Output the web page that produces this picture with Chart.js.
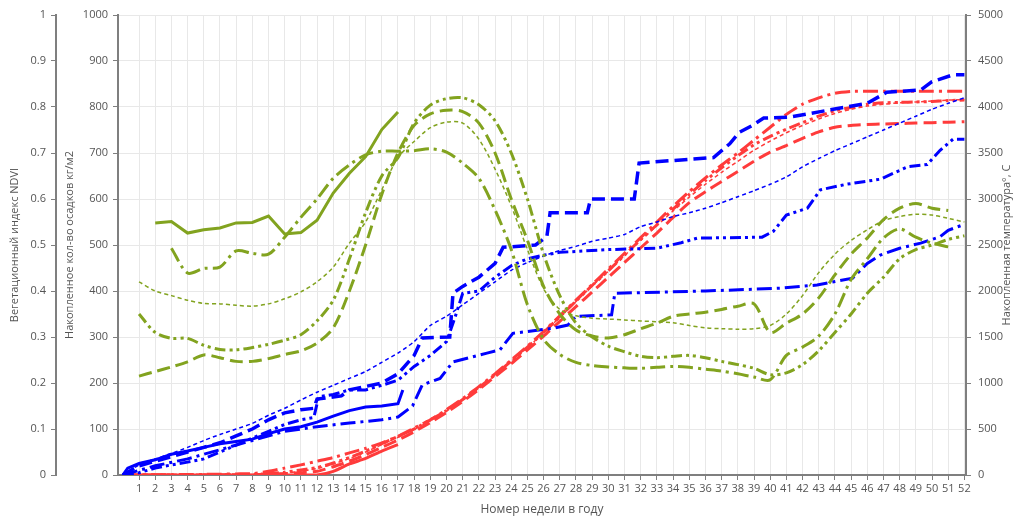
<!DOCTYPE html>
<html>
<head>
<meta charset="utf-8">
<script src="https://cdn.jsdelivr.net/npm/chart.js@4"></script>
<style>
  html, body { margin: 0; padding: 0; background: #fff; }
  #wrap { width: 1014px; height: 517px; }
</style>
</head>
<body>
<div id="wrap"><canvas id="chart" width="1014" height="517"></canvas></div>
<script>
// weeks 0..52 for weekly series
const weeks = Array.from({length: 53}, (_, i) => i);
const tickWeeks = weeks.slice(1);

// NDVI (left axis), index = week
const ndviSolid = [null,null,0.548,0.551,0.526,0.533,0.537,0.548,0.549,0.563,0.524,0.527,0.554,0.613,0.656,0.692,0.751,0.789];
const ndviDashDot = [null,null,null,0.493,0.439,0.449,0.452,0.487,0.482,0.48,0.517,0.56,0.6,0.645,0.674,0.696,0.704,0.704,0.705,0.709,0.702,0.678,0.645,0.576,0.49,0.37,0.295,0.262,0.245,0.238,0.235,0.233,0.232,0.234,0.236,0.234,0.23,0.226,0.22,0.213,0.207,0.26,0.278,0.302,0.35,0.425,0.47,0.515,0.535,0.517,0.504,0.496];
const ndviLongDash = [null,0.215,0.225,0.235,0.246,0.261,0.255,0.247,0.247,0.253,0.262,0.27,0.287,0.32,0.4,0.5,0.61,0.7,0.76,0.785,0.793,0.79,0.765,0.7,0.6,0.51,0.41,0.35,0.315,0.302,0.298,0.305,0.318,0.33,0.345,0.35,0.354,0.36,0.367,0.372,0.31,0.33,0.35,0.385,0.435,0.48,0.515,0.555,0.58,0.59,0.58,0.575];
const ndviDashDotDot = [null,0.35,0.31,0.297,0.297,0.282,0.273,0.272,0.277,0.284,0.293,0.305,0.335,0.38,0.47,0.57,0.65,0.69,0.765,0.804,0.818,0.82,0.805,0.77,0.7,0.6,0.48,0.39,0.33,0.3,0.28,0.268,0.258,0.255,0.258,0.26,0.255,0.247,0.24,0.232,0.218,0.222,0.24,0.27,0.31,0.35,0.395,0.43,0.47,0.49,0.5,0.512,0.52];
const ndviShortDash = [null,0.42,0.4,0.39,0.38,0.373,0.372,0.369,0.367,0.372,0.383,0.398,0.42,0.452,0.504,0.55,0.62,0.69,0.725,0.755,0.767,0.765,0.73,0.665,0.585,0.49,0.405,0.36,0.346,0.341,0.339,0.337,0.335,0.333,0.331,0.325,0.32,0.318,0.317,0.318,0.325,0.35,0.39,0.44,0.48,0.51,0.533,0.553,0.562,0.567,0.565,0.558,0.55];

// precipitation, kg/m2 (middle axis): week positions + values
const rainSolidWeeks = [0,0.3,1,2,3,4,5,6,7,8,9,10,11,12,13,14,15,16,17,17.3];
const rainSolid = [0,15,25,33,45,52,60,68,73,78,90,100,105,115,128,140,148,150,155,185];
const rainLongDashWeeks = [0,1,2,3,4,5,6,7,8,9,10,11,11.8,12,13.5,14,16,17,18,18.5,20.2,20.4,21,22,22.5,23,23.5,25.5,26.2,26.4,28.7,28.9,31.6,31.9,34.5,36.5,37.5,38.1,38.9,39.6,41.2,43.1,44.7,46,47.2,49.3,50,51.3,52];
const rainLongDash = [0,20,30,40,50,60,70,85,100,120,135,142,145,165,172,185,200,220,260,298,300,395,410,430,445,460,495,500,518,570,570,600,600,678,685,690,720,745,760,776,778,790,800,808,832,837,855,870,870];
const rainDashDotWeeks = [0,2,4,6,8,10,12,14,16,17,17.9,18.5,19.6,20.4,22.5,23.3,24.1,26.6,27.5,28,30.2,30.4,36,40.6,42.9,45.1,46,46.8,48,49.3,50.5,51,52];
const rainDashDot = [0,20,35,55,75,95,105,113,120,126,150,196,210,246,265,272,308,319,326,345,348,395,400,406,413,428,460,478,493,504,518,532,545];
const rainDashDotDotWeeks = [0,1,2,3,4,5,6,7,8,9,10,11,11.8,12.1,13,14,15,16,17,18,19,20,20.5,21,22,23,24,25,26,27,28,30,33,34.5,35.5,39.5,40.2,41,42.3,43.1,44.7,46.8,48.5,49.7,50.5,51.3,52];
const rainDashDotDot = [0,5,15,22,28,35,50,65,80,95,110,120,125,170,175,185,185,195,206,236,260,290,340,395,400,430,455,470,478,484,486,490,493,505,515,517,530,565,580,620,632,643,670,675,706,730,730];
const rainShortDash = [0,22,35,47,60,75,88,100,112,130,145,163,180,195,210,225,245,265,290,325,345,370,395,420,445,462,476,488,497,508,515,523,540,550,562,570,580,592,605,618,632,648,670,688,705,720,735,750,765,780,795,808,820];

// accumulated temperature (right axis), index = week
const tempSolid = [0,0,0,0,0,0,0,0,0,0,0,0,0,40,120,180,260,330];
const tempDashDot = [0,2,3,4,5,7,9,12,15,40,75,110,150,190,240,290,350,420,510,600,710,830,960,1100,1250,1400,1560,1730,1900,2070,2240,2410,2580,2750,2920,3080,3230,3370,3500,3640,3780,3920,4030,4100,4150,4170,4170,4170,4170,4170,4170,4170,4170];
const tempDashDotDot = [0,0,0,0,0,1,2,3,5,15,30,55,80,130,190,260,340,420,500,600,700,820,950,1090,1240,1390,1550,1720,1890,2060,2220,2390,2560,2720,2890,3050,3200,3340,3470,3590,3680,3760,3830,3900,3960,3995,4030,4045,4050,4055,4060,4070,4075];
const tempLongDash = [0,0,0,0,0,1,2,3,4,5,15,25,40,90,150,220,300,380,470,570,680,800,930,1070,1210,1360,1510,1670,1830,1990,2150,2310,2470,2630,2800,2960,3080,3190,3300,3410,3510,3580,3660,3730,3780,3800,3810,3815,3820,3825,3830,3835,3840];
const tempShortDash = [0,0,0,0,0,1,2,3,5,10,20,40,70,120,180,250,330,410,495,590,695,815,945,1085,1235,1385,1545,1715,1885,2055,2215,2385,2550,2710,2870,3020,3160,3290,3410,3530,3630,3720,3800,3870,3930,3975,4010,4030,4045,4055,4065,4075,4080];

const GREEN = '#82a31f';
const BLUE = '#0000ff';
const RED = '#ff3b3b';

const DASH = {
  solid: [],
  long: [13, 6],
  dashDot: [15, 5, 3, 5],
  dashDotDot: [11, 4, 3, 4, 3, 4],
  short: [4, 3]
};

function byWeek(values) {
  return values.map((v, i) => ({x: weeks[i], y: v}));
}
function pairs(xs, ys) {
  return xs.map((x, i) => ({x: x, y: ys[i]}));
}
function line(label, data, color, dash, width, axis, tension) {
  return {
    label: label,
    data: data,
    yAxisID: axis,
    borderColor: color,
    backgroundColor: color,
    borderDash: dash,
    borderWidth: width,
    pointRadius: 0,
    tension: tension,
    fill: false,
    spanGaps: false
  };
}

const datasets = [
  line('NDVI 1', byWeek(ndviSolid), GREEN, DASH.solid, 3, 'ndvi', 0),
  line('NDVI 2', byWeek(ndviDashDot), GREEN, DASH.dashDot, 3, 'ndvi', 0.3),
  line('NDVI 3', byWeek(ndviLongDash), GREEN, DASH.long, 3, 'ndvi', 0.3),
  line('NDVI 4', byWeek(ndviDashDotDot), GREEN, DASH.dashDotDot, 3, 'ndvi', 0.3),
  line('NDVI 5', byWeek(ndviShortDash), GREEN, DASH.short, 1.5, 'ndvi', 0.3),
  line('Осадки 1', pairs(rainSolidWeeks, rainSolid), BLUE, DASH.solid, 3, 'rain', 0),
  line('Осадки 2', pairs(rainLongDashWeeks, rainLongDash), BLUE, DASH.long, 3.5, 'rain', 0),
  line('Осадки 3', pairs(rainDashDotWeeks, rainDashDot), BLUE, DASH.dashDot, 3, 'rain', 0),
  line('Осадки 4', pairs(rainDashDotDotWeeks, rainDashDotDot), BLUE, DASH.dashDotDot, 3, 'rain', 0),
  line('Осадки 5', byWeek(rainShortDash), BLUE, DASH.short, 1.5, 'rain', 0.2),
  line('Температура 1', byWeek(tempSolid), RED, DASH.solid, 3, 'temp', 0.2),
  line('Температура 2', byWeek(tempDashDot), RED, DASH.dashDot, 3, 'temp', 0.2),
  line('Температура 3', byWeek(tempLongDash), RED, DASH.long, 3, 'temp', 0.2),
  line('Температура 4', byWeek(tempDashDotDot), RED, DASH.dashDotDot, 3, 'temp', 0.2),
  line('Температура 5', byWeek(tempShortDash), RED, DASH.short, 1.5, 'temp', 0.2)
];

const FONT = {family: "'Open Sans', sans-serif", size: 11};
const TEXT = '#555';
const AXIS = '#7f7f7f';
const GRID = '#e8e8e8';

const plain = v => String(Math.round(v * 10) / 10);

const rightTitle = {
  id: 'rightTitle',
  afterDraw(chart) {
    const c = chart.ctx;
    const a = chart.chartArea;
    c.save();
    c.translate(1007, (a.top + a.bottom) / 2);
    c.rotate(-Math.PI / 2);
    c.font = "11px 'Open Sans', sans-serif";
    c.fillStyle = TEXT;
    c.textAlign = 'center';
    c.textBaseline = 'middle';
    c.fillText('Накопленная температура°, С', 0, 0);
    c.restore();
  }
};

new Chart(document.getElementById('chart').getContext('2d'), {
  type: 'line',
  data: {datasets: datasets},
  plugins: [rightTitle],
  options: {
    responsive: false,
    animation: false,
    layout: {padding: {top: 15, right: 0, left: 0, bottom: 0}},
    plugins: {legend: {display: false}, tooltip: {enabled: false}},
    scales: {
      x: {
        type: 'linear',
        min: -0.3,
        max: 52.1,
        afterBuildTicks(s) { s.ticks = tickWeeks.map(v => ({value: v})); },
        afterFit(s) { s.height = 42; },
        ticks: {font: FONT, color: TEXT, maxRotation: 0, autoSkip: false, padding: 2, callback: plain},
        grid: {color: GRID, tickColor: AXIS, tickLength: 5},
        border: {color: AXIS, width: 2},
        title: {display: true, text: 'Номер недели в году', font: {family: FONT.family, size: 12}, color: TEXT, padding: {top: 4, bottom: 0}}
      },
      ndvi: {
        type: 'linear',
        position: 'left',
        weight: 2,
        min: 0,
        max: 1,
        afterFit(s) { s.width = 56; },
        ticks: {stepSize: 0.1, font: FONT, color: TEXT, padding: 5, callback: plain},
        grid: {drawOnChartArea: false, tickColor: AXIS, tickLength: 5},
        border: {color: AXIS, width: 2},
        title: {display: true, text: 'Вегетационный индекс NDVI', font: FONT, color: TEXT, padding: {top: 8, bottom: 0}}
      },
      rain: {
        type: 'linear',
        position: 'left',
        weight: 1,
        min: 0,
        max: 1000,
        afterFit(s) { s.width = 62; },
        ticks: {stepSize: 100, font: FONT, color: TEXT, padding: 5, callback: plain},
        grid: {color: GRID, tickColor: AXIS, tickLength: 5},
        border: {color: AXIS, width: 2},
        title: {display: true, text: 'Накопленное кол-во осадков кг/м2', font: FONT, color: TEXT, padding: {top: 7, bottom: 0}}
      },
      temp: {
        type: 'linear',
        position: 'right',
        min: 0,
        max: 5000,
        afterFit(s) { s.width = 48; },
        ticks: {stepSize: 500, font: FONT, color: TEXT, padding: 7, callback: plain},
        grid: {drawOnChartArea: false, tickColor: AXIS, tickLength: 5},
        border: {color: AXIS, width: 2}
      }
    }
  }
});
</script>
</body>
</html>
